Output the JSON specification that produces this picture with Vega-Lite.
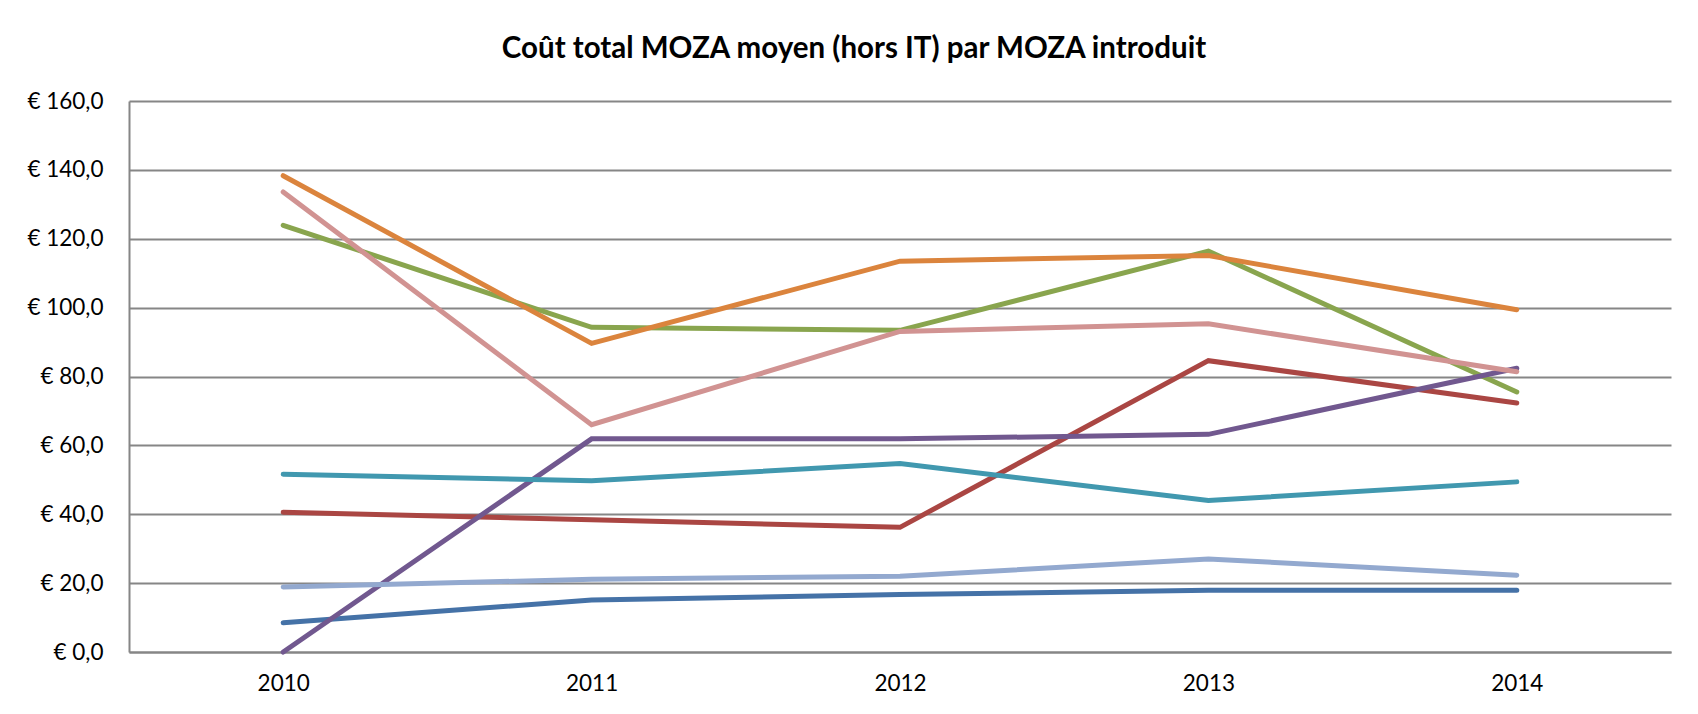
{
  "$schema": "https://vega.github.io/schema/vega-lite/v6.json",
  "autosize": "none",
  "width": 1542,
  "height": 551,
  "padding": {"left": 129, "top": 101, "right": 27, "bottom": 62},
  "background": "white",
  "title": {
    "text": "Coût total MOZA moyen (hors IT) par MOZA introduit",
    "font": "Lato",
    "fontSize": 29.5,
    "fontWeight": "bold",
    "color": "#000000",
    "anchor": "middle",
    "dx": -46,
    "offset": 26
  },
  "data": {
    "values": [
      {"year": "2010", "serie": "S1", "value": 8.5},
      {"year": "2011", "serie": "S1", "value": 15.1},
      {"year": "2012", "serie": "S1", "value": 16.7},
      {"year": "2013", "serie": "S1", "value": 17.9},
      {"year": "2014", "serie": "S1", "value": 17.9},
      {"year": "2010", "serie": "S2", "value": 40.6},
      {"year": "2011", "serie": "S2", "value": 38.4},
      {"year": "2012", "serie": "S2", "value": 36.2},
      {"year": "2013", "serie": "S2", "value": 84.6},
      {"year": "2014", "serie": "S2", "value": 72.3},
      {"year": "2010", "serie": "S3", "value": 123.9},
      {"year": "2011", "serie": "S3", "value": 94.3},
      {"year": "2012", "serie": "S3", "value": 93.4},
      {"year": "2013", "serie": "S3", "value": 116.4},
      {"year": "2014", "serie": "S3", "value": 75.5},
      {"year": "2010", "serie": "S4", "value": 0.0},
      {"year": "2011", "serie": "S4", "value": 61.9},
      {"year": "2012", "serie": "S4", "value": 61.9},
      {"year": "2013", "serie": "S4", "value": 63.2},
      {"year": "2014", "serie": "S4", "value": 82.4},
      {"year": "2010", "serie": "S5", "value": 51.6},
      {"year": "2011", "serie": "S5", "value": 49.7},
      {"year": "2012", "serie": "S5", "value": 54.7},
      {"year": "2013", "serie": "S5", "value": 44.0},
      {"year": "2014", "serie": "S5", "value": 49.4},
      {"year": "2010", "serie": "S6", "value": 138.3},
      {"year": "2011", "serie": "S6", "value": 89.6},
      {"year": "2012", "serie": "S6", "value": 113.5},
      {"year": "2013", "serie": "S6", "value": 115.1},
      {"year": "2014", "serie": "S6", "value": 99.4},
      {"year": "2010", "serie": "S7", "value": 18.9},
      {"year": "2011", "serie": "S7", "value": 21.1},
      {"year": "2012", "serie": "S7", "value": 22.0},
      {"year": "2013", "serie": "S7", "value": 27.0},
      {"year": "2014", "serie": "S7", "value": 22.3},
      {"year": "2010", "serie": "S8", "value": 133.6},
      {"year": "2011", "serie": "S8", "value": 66.0},
      {"year": "2012", "serie": "S8", "value": 93.1},
      {"year": "2013", "serie": "S8", "value": 95.3},
      {"year": "2014", "serie": "S8", "value": 81.4}
    ]
  },
  "mark": {"type": "line", "strokeWidth": 5, "strokeCap": "round", "strokeJoin": "miter"},
  "encoding": {
    "x": {
      "field": "year",
      "type": "ordinal",
      "scale": {"type": "point", "padding": 0.5},
      "axis": {
        "title": null,
        "labelAngle": 0,
        "labelFont": "Lato",
        "labelFontSize": 22.5,
        "labelColor": "#000000",
        "labelPadding": 20,
        "ticks": false,
        "domainColor": "#868686",
        "domainWidth": 2,
        "grid": false
      }
    },
    "y": {
      "field": "value",
      "type": "quantitative",
      "scale": {"domain": [0, 160], "nice": false, "zero": true},
      "axis": {
        "title": null,
        "values": [0, 20, 40, 60, 80, 100, 120, 140, 160],
        "labelExpr": "'€ ' + replace(format(datum.value, '.1f'), '.', ',')",
        "labelFont": "Lato",
        "labelFontSize": 22.5,
        "labelColor": "#000000",
        "labelPadding": 26,
        "ticks": false,
        "domainColor": "#868686",
        "domainWidth": 2,
        "grid": true,
        "gridColor": "#868686",
        "gridWidth": 2,
        "gridOpacity": 1
      }
    },
    "color": {
      "field": "serie",
      "type": "nominal",
      "scale": {
        "domain": ["S1", "S2", "S3", "S4", "S5", "S6", "S7", "S8"],
        "range": ["#4572A7", "#AA4643", "#89A54E", "#71588F", "#4198AF", "#DB843D", "#93A9CF", "#D19392"]
      },
      "legend": null
    }
  },
  "config": {
    "view": {"stroke": null}
  }
}
